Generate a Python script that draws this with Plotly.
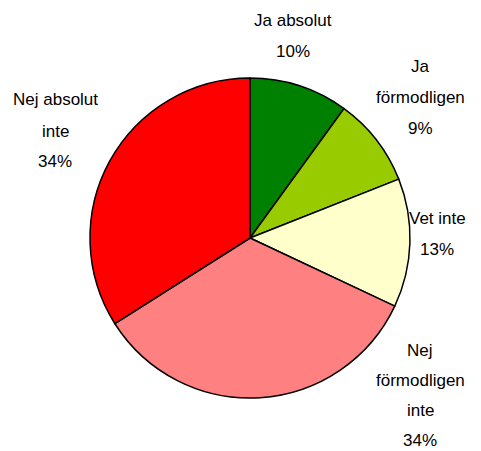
import plotly.graph_objects as go

# Survey answers, drawn clockwise from 12 o'clock
categories = ["Ja absolut", "Ja förmodligen", "Vet inte", "Nej förmodligen inte", "Nej absolut inte"]
shares = [10, 9, 13, 34, 34]
label_lines = [
    ["Ja absolut", "10%"],
    ["Ja", "förmodligen", "9%"],
    ["Vet inte", "13%"],
    ["Nej", "förmodligen", "inte", "34%"],
    ["Nej absolut", "inte", "34%"],
]
colors = ["#008000", "#99CC00", "#FFFFCC", "#FF8080", "#FF0000"]

W, H = 481, 451
FONT = "Liberation Sans, Arial, sans-serif"

# Label block centres (px from top-left) and spacing between stacked lines
label_centres = [(293, 36), (420, 97), (437, 234), (420, 395), (55, 131)]
line_gaps = [31, 31, 31, 30, 31]

fig = go.Figure(
    go.Pie(
        labels=categories,
        values=shares,
        sort=False,
        direction="clockwise",
        rotation=0,
        marker=dict(colors=colors, line=dict(color="black", width=1.5)),
        textinfo="none",
        hoverinfo="label+percent",
        domain=dict(x=[90 / W, 410 / W], y=[(H - 398) / H, (H - 78) / H]),
        showlegend=False,
    )
)

annotations = []
for lines, (cx, cy), gap in zip(label_lines, label_centres, line_gaps):
    n = len(lines)
    for i, txt in enumerate(lines):
        py = cy + (i - (n - 1) / 2) * gap
        annotations.append(
            dict(
                text=txt,
                x=cx / W,
                y=1 - py / H,
                xref="paper",
                yref="paper",
                xanchor="center",
                yanchor="middle",
                showarrow=False,
                font=dict(family=FONT, size=17, color="black"),
            )
        )

fig.update_layout(
    width=W,
    height=H,
    margin=dict(l=0, r=0, t=0, b=0),
    paper_bgcolor="white",
    plot_bgcolor="white",
    annotations=annotations,
)

fig.write_html("out.html")
